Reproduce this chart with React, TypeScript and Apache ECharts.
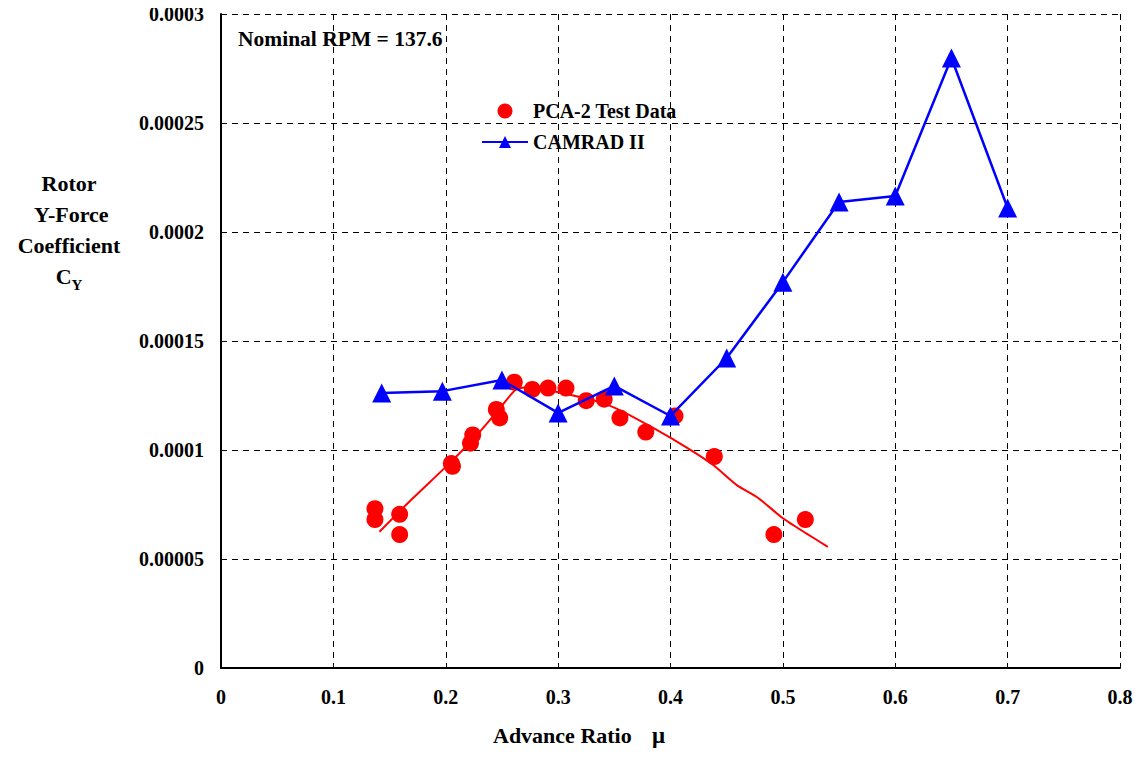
import React, { useEffect, useRef } from "react";
import * as echarts from "echarts";

const xTicks = [0, 0.1, 0.2, 0.3, 0.4, 0.5, 0.6, 0.7, 0.8];
const yTicks = [0, 0.00005, 0.0001, 0.00015, 0.0002, 0.00025, 0.0003];

const testData: [number, number][] = [
  [0.137, 0.0000731], [0.137, 0.0000681], [0.159, 0.0000705], [0.159, 0.0000612],
  [0.205, 0.0000938], [0.206, 0.0000925], [0.224, 0.0001069], [0.222, 0.0001031],
  [0.245, 0.0001186], [0.248, 0.0001147], [0.261, 0.0001311], [0.277, 0.0001278],
  [0.291, 0.0001284], [0.307, 0.0001284], [0.325, 0.0001226], [0.341, 0.0001233],
  [0.355, 0.0001147], [0.378, 0.0001082], [0.404, 0.0001156], [0.439, 0.0000970],
  [0.492, 0.0000612], [0.520, 0.0000681],
];

const fitLine: [number, number][] = [
  [0.141, 0.0000625], [0.17, 0.0000775], [0.204, 0.0000942], [0.228, 0.000107],
  [0.248, 0.000119], [0.262, 0.0001275], [0.275, 0.000129], [0.30, 0.0001265],
  [0.33, 0.000123], [0.352, 0.000119], [0.385, 0.000110], [0.417, 0.0001003],
  [0.438, 0.0000931], [0.459, 0.0000839], [0.478, 0.000078], [0.50, 0.0000687],
  [0.52, 0.000062], [0.540, 0.0000556],
];

const camrad: [number, number][] = [
  [0.143, 0.0001261], [0.197, 0.000127], [0.25, 0.0001321], [0.30, 0.000117],
  [0.35, 0.0001294], [0.40, 0.0001156], [0.45, 0.0001422], [0.50, 0.000177],
  [0.55, 0.0002138], [0.60, 0.0002165], [0.65, 0.0002798], [0.70, 0.000211],
];

const FONT = "Liberation Serif";

export default function App() {
  const ref = useRef<HTMLDivElement>(null);
  useEffect(() => {
    if (!ref.current) return;
    const chart = echarts.init(ref.current, undefined, { renderer: "svg" });
    chart.setOption({
      animation: false,
      backgroundColor: "#ffffff",
      textStyle: { fontFamily: FONT },
      grid: { left: 221, right: 22, top: 14, bottom: 91, containLabel: false },
      legend: {
        orient: "vertical",
        left: 481,
        top: 101,
        padding: 0,
        itemWidth: 46,
        itemHeight: 15,
        itemGap: 11,
        textStyle: { fontFamily: FONT, fontWeight: "bold", fontSize: 20, color: "#000" },
        data: ["PCA-2 Test Data", "CAMRAD II"],
      },
      xAxis: {
        type: "value",
        min: xTicks[0],
        max: xTicks[xTicks.length - 1],
        interval: 0.1,
        axisLine: { show: true, lineStyle: { color: "#000", width: 2 } },
        axisTick: { show: true, inside: true, length: 5, lineStyle: { color: "#000" } },
        axisLabel: {
          fontFamily: FONT, fontWeight: "bold", fontSize: 20, color: "#000", margin: 19,
          formatter: (v: number) => String(parseFloat(v.toFixed(2))),
        },
        splitLine: { show: true, lineStyle: { color: "#000", type: [6, 5], width: 1 } },
      },
      yAxis: {
        type: "value",
        min: yTicks[0],
        max: yTicks[yTicks.length - 1],
        interval: 0.00005,
        axisLine: { show: true, lineStyle: { color: "#000", width: 2 } },
        axisTick: { show: true, inside: true, length: 5, lineStyle: { color: "#000" } },
        axisLabel: {
          fontFamily: FONT, fontWeight: "bold", fontSize: 20, color: "#000", margin: 17,
          formatter: (v: number) => String(parseFloat(v.toFixed(6))),
        },
        splitLine: { show: true, lineStyle: { color: "#000", type: [6, 5], width: 1 } },
      },
      graphic: [
        {
          type: "text",
          x: 238,
          y: 28,
          style: { text: "Nominal RPM = 137.6", fontFamily: FONT, fontWeight: "bold", fontSize: 21.5, fill: "#000", verticalAlign: "top" },
        },
        {
          type: "text",
          x: 493,
          y: 735,
          style: { text: "Advance Ratio", fontFamily: FONT, fontWeight: "bold", fontSize: 22, fill: "#000", verticalAlign: "middle" },
        },
        {
          type: "text",
          x: 652,
          y: 735,
          style: { text: "μ", fontFamily: FONT, fontWeight: "bold", fontSize: 23, fill: "#000", verticalAlign: "middle" },
        },
        {
          type: "text",
          x: 69,
          y: 168,
          style: {
            text: "{a|Rotor}\n{a| Y-Force}\n{a|Coefficient}\n{a|C}{s|Y}",
            align: "center",
            fill: "#000",
            rich: {
              a: { fontFamily: FONT, fontWeight: "bold", fontSize: 22, lineHeight: 31, fill: "#000" },
              s: { fontFamily: FONT, fontWeight: "bold", fontSize: 15, lineHeight: 31, fill: "#000", verticalAlign: "bottom", padding: [7, 0, 0, 0] },
            },
          },
        },
      ],
      series: [
        {
          name: "PCA-2 Test Data",
          type: "scatter",
          data: testData,
          symbol: "circle",
          symbolSize: 17,
          itemStyle: { color: "#ff0000", opacity: 1 },
          z: 3,
        },
        {
          name: "fit",
          type: "line",
          data: fitLine,
          showSymbol: false,
          smooth: 0.2,
          lineStyle: { color: "#ff0000", width: 2 },
          z: 2,
        },
        {
          name: "CAMRAD II",
          type: "line",
          data: camrad,
          symbol: "triangle",
          symbolSize: 19,
          showSymbol: true,
          itemStyle: { color: "#0000ff" },
          lineStyle: { color: "#0000ff", width: 2.5 },
          z: 4,
        },
      ],
    });
    return () => chart.dispose();
  }, []);
  return <div ref={ref} style={{ width: 1142, height: 759, margin: -8 }} />;
}
